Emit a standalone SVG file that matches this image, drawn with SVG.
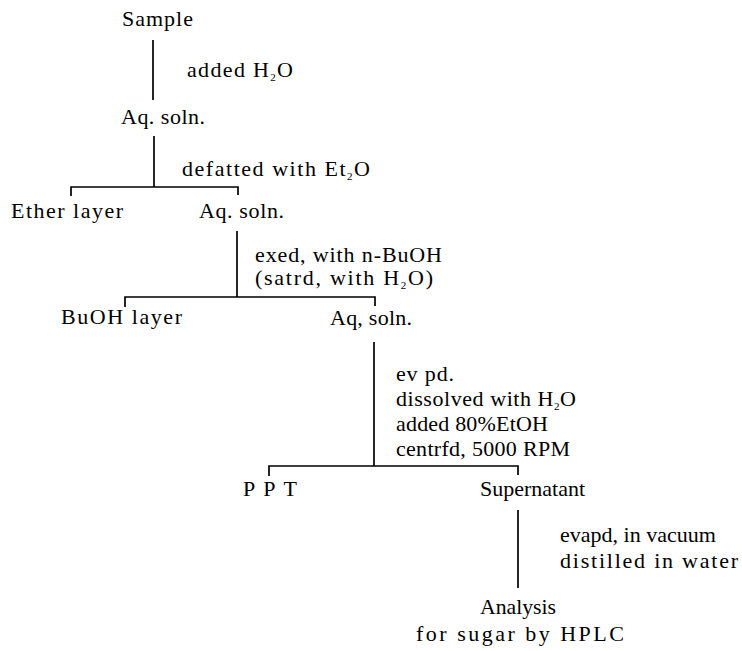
<svg xmlns="http://www.w3.org/2000/svg" width="742" height="651" viewBox="0 0 742 651">
<style>
text{font-family:"Liberation Serif","Times New Roman",serif;font-size:22px;fill:#000}
.sub{font-size:11px}
.ln{stroke:#000;stroke-width:1.7;fill:none}
</style>
<rect width="742" height="651" fill="#fff"/>
<g id="connectors">
<path class="ln" d="M153,40 V100"/>
<path class="ln" d="M154,136 V187"/>
<path class="ln" d="M71,196 V187 H238 V195"/>
<path class="ln" d="M237,231 V297"/>
<path class="ln" d="M125,307 V297 H375 V306"/>
<path class="ln" d="M374,342 V466"/>
<path class="ln" d="M269,476 V466 H518 V475"/>
<path class="ln" d="M518,510 V588"/>
</g>
<g id="sample"><text x="122" y="26" font-size="23" textLength="71">Sample</text></g>
<g id="step1"><text x="187" y="77" textLength="106">added H<tspan class="sub" dy="4">2</tspan><tspan dy="-4">O</tspan></text></g>
<g id="aq1"><text x="121" y="124" textLength="84">Aq. soln.</text></g>
<g id="step2"><text x="182" y="176" textLength="188">defatted with Et<tspan class="sub" dy="4">2</tspan><tspan dy="-4">O</tspan></text></g>
<g id="ether"><text x="11" y="218" textLength="112">Ether layer</text></g>
<g id="aq2"><text x="199" y="218" textLength="85">Aq. soln.</text></g>
<g id="step3">
<text x="255" y="262" textLength="187">exed, with n-BuOH</text>
<text x="255" y="285" textLength="178">(satrd, with H<tspan class="sub" dy="4">2</tspan><tspan dy="-4">O)</tspan></text>
</g>
<g id="buoh"><text x="61" y="324" textLength="121">BuOH layer</text></g>
<g id="aq3"><text x="330" y="325" textLength="82">Aq, soln.</text></g>
<g id="step4">
<text x="396" y="381" textLength="58">ev pd.</text>
<text x="396" y="406" textLength="180">dissolved with H<tspan class="sub" dy="4">2</tspan><tspan dy="-4">O</tspan></text>
<text x="396" y="431" textLength="152">added 80%EtOH</text>
<text x="396" y="456" textLength="174">centrfd, 5000 RPM</text>
</g>
<g id="ppt"><text x="243" y="496" textLength="54">PPT</text></g>
<g id="supernatant"><text x="480" y="496" font-size="21">Supernatant</text></g>
<g id="step5">
<text x="560" y="542" textLength="156" lengthAdjust="spacingAndGlyphs">evapd, in vacuum</text>
<text x="560" y="568" textLength="178">distilled in water</text>
</g>
<g id="analysis">
<text x="480" y="614" textLength="76" lengthAdjust="spacingAndGlyphs">Analysis</text>
<text x="416" y="641" textLength="208">for sugar by HPLC</text>
</g>
</svg>
